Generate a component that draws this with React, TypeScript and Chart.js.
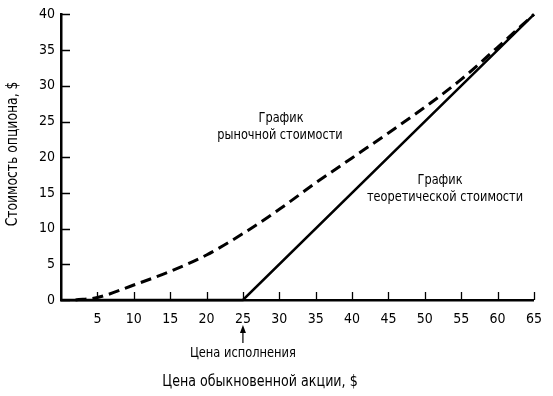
import React, { useEffect, useRef } from "react";
import { Chart, registerables } from "chart.js";

Chart.register(...registerables);

const FONT = "'Liberation Sans Narrow', 'DejaVu Sans Condensed', 'Arial Narrow', sans-serif";

// Stock price ($) and option values ($)
const theoreticalX = [0, 25, 65];
const theoreticalY = [0, 0, 40];

const marketX = [2, 5, 10, 15, 20, 25, 30, 35, 40, 45, 50, 55, 60, 65];
const marketY = [0, 0.35, 2.1, 4.0, 6.3, 9.3, 12.7, 16.4, 19.9, 23.4, 27.0, 30.9, 35.4, 40];

const yTicks = [0, 5, 10, 15, 20, 25, 30, 35, 40];
const xTicks = [5, 10, 15, 20, 25, 30, 35, 40, 45, 50, 55, 60, 65];

const xTitle = "Цена обыкновенной акции, $";
const yTitle = "Стоимость опциона, $";
const strikeLabel = "Цена исполнения";
const strikeValue = 25;
const marketLabel = ["График", "рыночной стоимости"];
const theoreticalLabel = ["График", "теоретической стоимости"];

function drawText(ctx: any, text: string, cx: number, cy: number, size: number, k: number, rotate = false) {
  ctx.save();
  ctx.font = `${size}px ${FONT}`;
  ctx.translate(cx, cy);
  if (rotate) ctx.rotate(-Math.PI / 2);
  ctx.scale(k, 1);
  ctx.textAlign = "center";
  ctx.textBaseline = "middle";
  ctx.fillText(text, 0, 0);
  ctx.restore();
}

const decorPlugin = {
  id: "decor",
  afterDatasetsDraw(chart: any) {
    const { ctx, chartArea, scales } = chart;
    const xs = scales.x;
    const ys = scales.y;
    ctx.save();
    ctx.strokeStyle = "#000";
    ctx.fillStyle = "#000";
    ctx.lineWidth = 1.3;
    // inward ticks
    ctx.beginPath();
    yTicks.forEach((v) => {
      const py = Math.round(ys.getPixelForValue(v)) + 0.5;
      ctx.moveTo(chartArea.left, py);
      ctx.lineTo(chartArea.left + 9, py);
    });
    xTicks.forEach((v) => {
      const px = Math.round(xs.getPixelForValue(v)) + 0.5;
      ctx.moveTo(px, chartArea.bottom);
      ctx.lineTo(px, chartArea.bottom - 8);
    });
    ctx.stroke();

    // annotations
    drawText(ctx, marketLabel[0], 281, 118, 14, 0.9);
    drawText(ctx, marketLabel[1], 280, 135, 14, 0.9);
    drawText(ctx, theoreticalLabel[0], 440, 180, 14, 0.9);
    drawText(ctx, theoreticalLabel[1], 445, 197, 14, 0.9);

    // strike arrow
    const sx = xs.getPixelForValue(strikeValue);
    ctx.lineWidth = 1.2;
    ctx.beginPath();
    ctx.moveTo(sx, 343);
    ctx.lineTo(sx, 330);
    ctx.stroke();
    ctx.beginPath();
    ctx.moveTo(sx, 325);
    ctx.lineTo(sx - 3, 333);
    ctx.lineTo(sx + 3, 333);
    ctx.closePath();
    ctx.fill();
    drawText(ctx, strikeLabel, sx, 353, 14, 0.91);

    // axis titles
    drawText(ctx, xTitle, 260, 382, 16, 0.88);
    drawText(ctx, yTitle, 13, 154, 16, 0.86, true);
    ctx.restore();
  },
};

export default function App() {
  const ref = useRef<HTMLCanvasElement | null>(null);
  useEffect(() => {
    if (!ref.current) return;
    const chart = new Chart(ref.current, {
      type: "line",
      data: {
        datasets: [
          {
            label: "theoretical",
            data: theoreticalX.map((x, i) => ({ x, y: theoreticalY[i] })),
            borderColor: "#000",
            borderWidth: 2.5,
            pointRadius: 0,
            tension: 0,
            fill: false,
            clip: 6,
          },
          {
            label: "market",
            data: marketX.map((x, i) => ({ x, y: marketY[i] })),
            borderColor: "#000",
            borderWidth: 3,
            borderDash: [11, 6],
            pointRadius: 0,
            cubicInterpolationMode: "monotone",
            fill: false,
            clip: 6,
          },
        ],
      },
      options: {
        animation: false,
        responsive: false,
        maintainAspectRatio: false,
        layout: { padding: { left: 0, right: 15, top: 7, bottom: 0 } },
        plugins: { legend: { display: false }, tooltip: { enabled: false } },
        scales: {
          x: {
            type: "linear",
            min: 0,
            max: 65,
            afterBuildTicks: (s: any) => {
              s.ticks = xTicks.map((v) => ({ value: v }));
            },
            afterFit: (s: any) => {
              s.height = 96;
            },
            grid: { display: false, drawTicks: false },
            border: { display: true, color: "#000", width: 2.5 },
            ticks: {
              color: "#000",
              padding: 11,
              font: { family: FONT, size: 14 },
              maxRotation: 0,
              autoSkip: false,
            },
          },
          y: {
            type: "linear",
            min: 0,
            max: 40,
            afterBuildTicks: (s: any) => {
              s.ticks = yTicks.map((v) => ({ value: v }));
            },
            afterFit: (s: any) => {
              s.width = 61;
            },
            grid: { display: false, drawTicks: false },
            border: { display: true, color: "#000", width: 2.5 },
            ticks: {
              color: "#000",
              padding: 6,
              font: { family: FONT, size: 14 },
              autoSkip: false,
            },
          },
        },
      },
      plugins: [decorPlugin],
    });
    return () => chart.destroy();
  }, []);
  return (
    <div style={{ position: "absolute", left: 0, top: 0, width: 553, height: 396, background: "#fff" }}>
      <canvas ref={ref} width={553} height={396} style={{ display: "block" }} />
    </div>
  );
}
